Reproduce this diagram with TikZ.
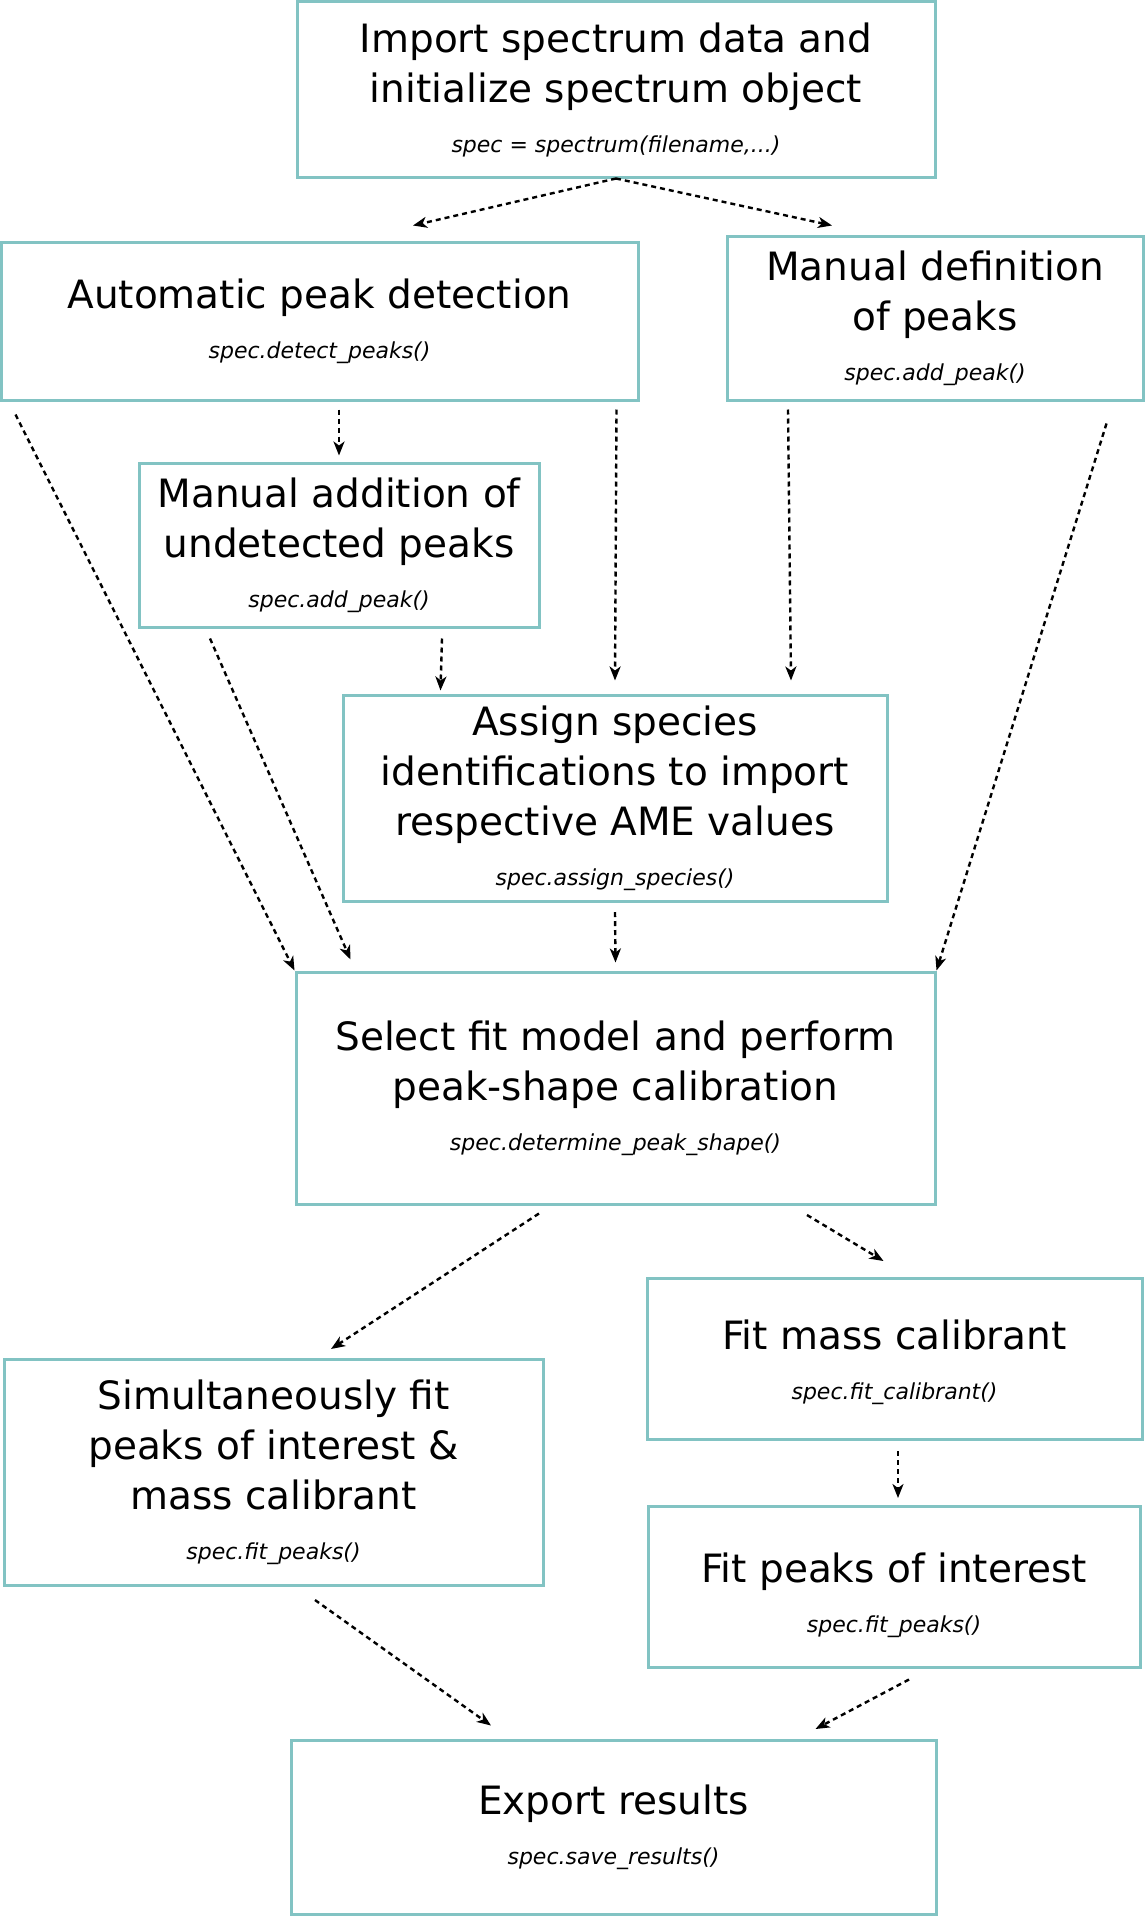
\documentclass[tikz,border=0pt]{standalone}
\usepackage{fontspec}
\setmainfont{DejaVu Sans}
\usetikzlibrary{arrows.meta}
\definecolor{boxteal}{HTML}{82C3C3}
\newcommand{\codeline}[1]{{\fontsize{22}{26}\selectfont\itshape #1}}
\newcommand{\droptext}[2]{\raisebox{-#1}[\height][\depth]{\begin{tabular}{@{}c@{}}#2\end{tabular}}}

\begin{document}
\begin{tikzpicture}[x=1pt,y=-1pt,>=Stealth,
  stepbox/.style={draw=boxteal,line width=3pt,align=center,inner sep=0pt,
    font=\fontsize{39}{50}\selectfont},
  flow/.style={-{Stealth[length=14pt,width=11pt,inset=4pt]},line width=2.4pt,
    dash pattern=on 5pt off 4pt,black}]
\useasboundingbox (0,0) rectangle (1144,1916);

\node[stepbox,minimum width=638pt,minimum height=175pt] (import) at (616,89.5)
  {Import spectrum data and\\initialize spectrum object\\\codeline{spec = spectrum(filename,...)}};
\node[stepbox,minimum width=637pt,minimum height=158pt] (detect) at (319.5,321)
  {Automatic peak detection\\\codeline{spec.detect\_peaks()}};
\node[stepbox,minimum width=416pt,minimum height=164pt] (define) at (935,318)
  {Manual definition\\of peaks\\\codeline{spec.add\_peak()}};
\node[stepbox,minimum width=400pt,minimum height=164pt] (addpk) at (339,545)
  {Manual addition of\\undetected peaks\\\codeline{spec.add\_peak()}};
\node[stepbox,minimum width=544pt,minimum height=206pt] (assign) at (615,798)
  {Assign species\\identifications to import\\respective AME values\\\codeline{spec.assign\_species()}};
\node[stepbox,minimum width=639pt,minimum height=232pt] (shape) at (615.5,1088)
  {Select fit model and perform\\peak-shape calibration\\\codeline{spec.determine\_peak\_shape()}};
\node[stepbox,minimum width=539pt,minimum height=226pt] (simfit) at (273.5,1472)
  {Simultaneously fit\\peaks of interest \&\\mass calibrant\\\codeline{spec.fit\_peaks()}};
\node[stepbox,minimum width=495pt,minimum height=161pt] (calfit) at (894.5,1358.5)
  {\droptext{6pt}{Fit mass calibrant\\\codeline{spec.fit\_calibrant()}}};
\node[stepbox,minimum width=492pt,minimum height=161pt] (poifit) at (894,1586.5)
  {\droptext{11pt}{Fit peaks of interest\\\codeline{spec.fit\_peaks()}}};
\node[stepbox,minimum width=645pt,minimum height=174pt] (export) at (613.5,1827)
  {Export results\\\codeline{spec.save\_results()}};

\draw[flow] (import.south) -- ([xshift=93.5pt,yshift=15pt]detect.north);
\draw[flow] (import.south) -- ([xshift=-103pt,yshift=9pt]define.north);
\draw[flow] ([xshift=19.5pt,yshift=-8pt]detect.south) -- ([yshift=6pt]addpk.north);
\draw[flow] ([xshift=16pt,yshift=-13pt]detect.south west) -- (shape.north west);
\draw[flow] ([xshift=72.5pt,yshift=-10pt]addpk.south west) -- ([xshift=56pt,yshift=11pt]shape.north west);
\draw[flow] ([xshift=-23pt,yshift=-8pt]detect.south east) -- ([yshift=13pt]assign.north);
\draw[flow] ([xshift=103pt,yshift=-10pt]addpk.south) -- ([xshift=99pt,yshift=3pt]assign.north west);
\draw[flow] ([xshift=62.5pt,yshift=-8pt]define.south west) -- ([xshift=-97.5pt,yshift=13pt]assign.north east);
\draw[flow] ([xshift=-38pt,yshift=-22pt]define.south east) -- (shape.north east);
\draw[flow] ([yshift=-9.5pt]assign.south) -- ([yshift=8pt]shape.north);
\draw[flow] ([xshift=-76.5pt,yshift=-8pt]shape.south) -- ([xshift=57.5pt,yshift=8.5pt]simfit.north);
\draw[flow] ([xshift=-129.5pt,yshift=-9.5pt]shape.south east) -- ([xshift=-11pt,yshift=15.5pt]calfit.north);
\draw[flow] ([xshift=3.5pt,yshift=-10.5pt]calfit.south) -- ([xshift=4pt,yshift=6.5pt]poifit.north);
\draw[flow] ([xshift=41.5pt,yshift=-13.5pt]simfit.south) -- ([xshift=201.5pt,yshift=13pt]export.north west);
\draw[flow] ([xshift=15pt,yshift=-11pt]poifit.south) -- ([xshift=-122pt,yshift=9.5pt]export.north east);
\end{tikzpicture}
\end{document}
